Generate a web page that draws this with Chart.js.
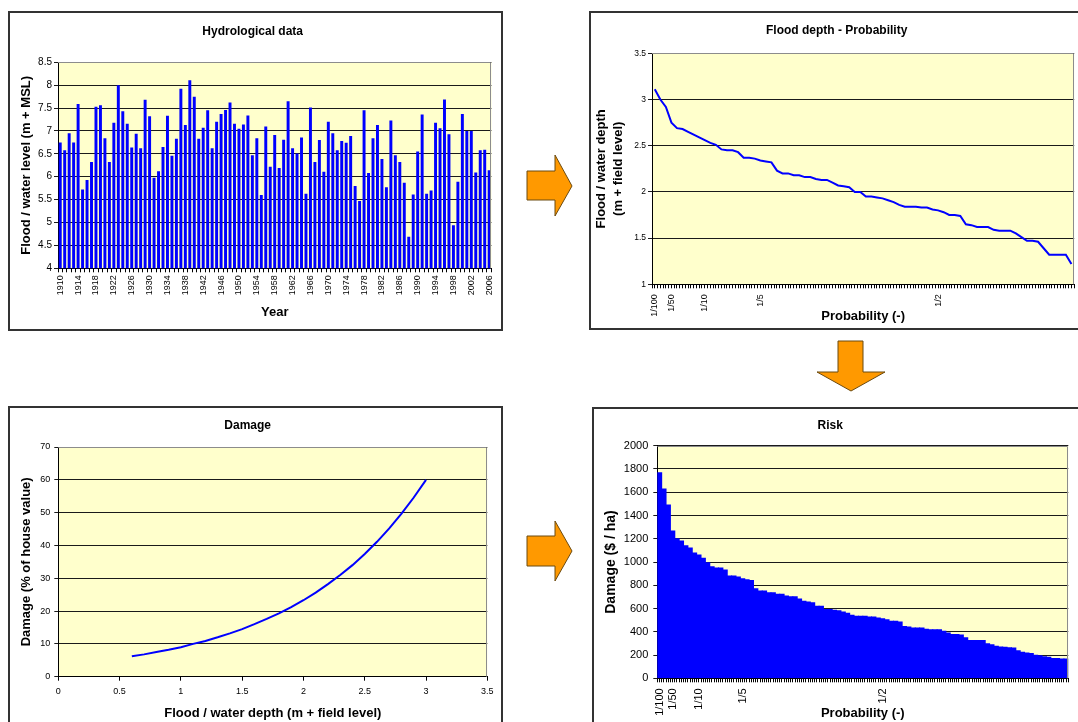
<!DOCTYPE html>
<html>
<head>
<meta charset="utf-8">
<script src="https://cdn.jsdelivr.net/npm/chart.js@4.4.1/dist/chart.umd.min.js"></script>
<style>
  html, body { margin: 0; padding: 0; background: #fff; width: 1078px; height: 722px; overflow: hidden; }
  .panel { position: absolute; }
  .frame { position: absolute; box-sizing: border-box; border: 2px solid #333; pointer-events: none; }
  canvas { display: block; }
  svg { position: absolute; left: 0; top: 0; }
</style>
</head>
<body>

<canvas id="hydro" class="panel" width="495" height="320" style="left:8px;top:11px"></canvas>
<div class="frame" style="left:8px;top:11px;width:495px;height:320px"></div>

<canvas id="depth" class="panel" width="502" height="319" style="left:589px;top:11px"></canvas>
<div class="frame" style="left:589px;top:11px;width:502px;height:319px"></div>

<canvas id="damage" class="panel" width="495" height="330" style="left:8px;top:406px"></canvas>
<div class="frame" style="left:8px;top:406px;width:495px;height:330px"></div>

<canvas id="risk" class="panel" width="498" height="330" style="left:592px;top:407px"></canvas>
<div class="frame" style="left:592px;top:407px;width:498px;height:330px"></div>

<svg width="1078" height="722">
  <polygon points="527,171 555,171 555,155 572,186 555,216 555,200 527,200" fill="#FF9900" stroke="#6b4a10" stroke-width="1"/>
  <polygon points="838,341 863,341 863,372 885,372 851,391 817,372 838,372" fill="#FF9900" stroke="#6b4a10" stroke-width="1"/>
  <polygon points="527,536 555,536 555,521 572,551 555,581 555,566 527,566" fill="#FF9900" stroke="#6b4a10" stroke-width="1"/>
</svg>

<script>
// ---- annual maximum water levels (m + MSL) ----
const years = [1910, 1911, 1912, 1913, 1914, 1915, 1916, 1917, 1918, 1919,
  1920, 1921, 1922, 1923, 1924, 1925, 1926, 1927, 1928, 1929,
  1930, 1931, 1932, 1933, 1934, 1935, 1936, 1937, 1938, 1939,
  1940, 1941, 1942, 1943, 1944, 1945, 1946, 1947, 1948, 1949,
  1950, 1951, 1952, 1953, 1954, 1955, 1956, 1957, 1958, 1959,
  1960, 1961, 1962, 1963, 1964, 1965, 1966, 1967, 1968, 1969,
  1970, 1971, 1972, 1973, 1974, 1975, 1976, 1977, 1978, 1979,
  1980, 1981, 1982, 1983, 1984, 1985, 1986, 1987, 1988, 1989,
  1990, 1991, 1992, 1993, 1994, 1995, 1996, 1997, 1998, 1999,
  2000, 2001, 2002, 2003, 2004, 2005, 2006];

const waterLevel = [6.75, 6.58, 6.95, 6.75, 7.59, 5.72, 5.93, 6.32, 7.53, 7.56,
  6.84, 6.32, 7.18, 8.00, 7.43, 7.16, 6.64, 6.94, 6.62, 7.68,
  7.32, 5.98, 6.12, 6.65, 7.33, 6.46, 6.83, 7.92, 7.13, 8.11,
  7.75, 6.83, 7.07, 7.45, 6.62, 7.20, 7.37, 7.46, 7.62, 7.16,
  7.05, 7.14, 7.34, 6.47, 6.84, 5.60, 7.10, 6.22, 6.91, 6.19,
  6.81, 7.65, 6.62, 6.51, 6.86, 5.63, 7.51, 6.32, 6.80, 6.11,
  7.20, 6.95, 6.58, 6.78, 6.74, 6.89, 5.80, 5.47, 7.45, 6.08,
  6.84, 7.13, 6.39, 5.77, 7.23, 6.47, 6.32, 5.87, 4.69, 5.61,
  6.55, 7.36, 5.63, 5.70, 7.18, 7.06, 7.69, 6.93, 4.94, 5.89,
  7.37, 7.00, 7.00, 6.09, 6.58, 6.59, 6.14];

// ---- flood depth (m + field level), ranked from rarest to most frequent ----
const floodDepth = [3.11, 3.00, 2.92, 2.75, 2.69, 2.68, 2.65, 2.62, 2.59, 2.56,
  2.53, 2.51, 2.46, 2.45, 2.45, 2.43, 2.37, 2.37, 2.36, 2.34,
  2.33, 2.32, 2.23, 2.20, 2.20, 2.18, 2.18, 2.16, 2.16, 2.14,
  2.13, 2.13, 2.10, 2.07, 2.06, 2.05, 2.00, 2.00, 1.95, 1.95,
  1.94, 1.93, 1.91, 1.89, 1.86, 1.84, 1.84, 1.84, 1.83, 1.83,
  1.81, 1.80, 1.78, 1.75, 1.75, 1.74, 1.65, 1.64, 1.62, 1.62,
  1.62, 1.59, 1.58, 1.58, 1.58, 1.55, 1.51, 1.47, 1.47, 1.46,
  1.39, 1.32, 1.32, 1.32, 1.32, 1.22];

// ---- depth-damage curve ----
const damageDepth = [0.6, 0.7, 0.8, 0.9, 1.0, 1.1, 1.2, 1.3, 1.4, 1.5, 1.6, 1.7, 1.8,
  1.9, 2.0, 2.1, 2.2, 2.3, 2.4, 2.5, 2.6, 2.7, 2.8, 2.9, 3.0];
const damagePercent = [6.2, 6.8, 7.5, 8.2, 9.0, 10.0, 10.9, 12.0, 13.2, 14.5, 16.0, 17.6, 19.3,
  21.2, 23.3, 25.6, 28.2, 31.0, 34.0, 37.4, 41.1, 45.2, 49.7, 54.6, 60.0];

// ---- damage per hectare for each ranked event ----
const riskDamage = [1768, 1627, 1490, 1266, 1200, 1180, 1140, 1120, 1077, 1060,
  1032, 994, 960, 948, 948, 932, 880, 880, 872, 856,
  848, 840, 771, 750, 750, 736, 736, 722, 722, 708,
  702, 702, 682, 663, 657, 650, 620, 620, 592, 592,
  586, 581, 570, 559, 543, 533, 533, 533, 528, 528,
  518, 513, 504, 490, 490, 485, 446, 441, 433, 433,
  433, 421, 417, 417, 417, 405, 390, 376, 376, 372,
  348, 326, 326, 326, 326, 297, 288, 275, 270, 267,
  262, 260, 236, 225, 217, 213, 199, 194, 185, 181,
  170, 170, 167, 165];

// ---- probability labels on the ranked axis ----
const probLabelRank = [0, 3, 9, 19, 51];
const probLabelText = ['1/100', '1/50', '1/10', '1/5', '1/2'];

// ------------------------------------------------------------------
const FONT = "'Liberation Sans', Arial, Helvetica, sans-serif";
const f = (size, weight) => ({ family: FONT, size: size, weight: weight || 'normal' });
const plain = v => String(Math.round(v * 100) / 100);

// light yellow plot area with a grey frame on top and right
const plotFrame = {
  id: 'plotFrame',
  beforeDraw(chart) {
    const c = chart.ctx, a = chart.chartArea;
    c.save();
    c.fillStyle = '#ffffff';
    c.fillRect(0, 0, chart.width, chart.height);
    c.fillStyle = '#FFFFCC';
    c.fillRect(a.left, a.top, a.right - a.left, a.bottom - a.top);
    c.restore();
  },
  afterDatasetsDraw(chart) {
    const c = chart.ctx, a = chart.chartArea;
    c.save();
    c.strokeStyle = '#8c8c8c';
    c.lineWidth = 1;
    c.beginPath();
    c.moveTo(a.left, Math.round(a.top) + 0.5);
    c.lineTo(Math.round(a.right) - 0.5, Math.round(a.top) + 0.5);
    c.lineTo(Math.round(a.right) - 0.5, a.bottom);
    c.stroke();
    c.restore();
  }
};

function axisTitle(text, size, pad) {
  return { display: true, text: text, color: '#000', font: f(size, 'bold'), padding: pad };
}
function chartTitle(text, pad) {
  return { display: true, text: text, color: '#000', font: f(12, 'bold'), padding: pad };
}
const noLegend = { display: false };
const noTip = { enabled: false };

// half-category tick marks along the ranked probability axis
function halfSteps(axis) {
  const n = Math.round(axis.max * 2);
  const t = [];
  for (let k = 0; k <= n; k++) t.push({ value: k / 2 });
  axis.ticks = t;
}
function probLabel(v) {
  const k = probLabelRank.findIndex(r => Math.abs(r + 0.5 - v) < 1e-6);
  return k >= 0 ? probLabelText[k] : '';
}

// ---------------- Hydrological data ----------------
new Chart(document.getElementById('hydro'), {
  type: 'bar',
  data: {
    labels: years.map(String),
    datasets: [{ data: waterLevel, backgroundColor: '#0000FF', barPercentage: 0.66, categoryPercentage: 1 }]
  },
  options: {
    responsive: false, animation: false, events: [],
    layout: { padding: { left: 0, right: 5.7, top: 0, bottom: 0 } },
    plugins: { legend: noLegend, tooltip: noTip, title: chartTitle('Hydrological data', { top: 13.5, bottom: 23.4 }) },
    scales: {
      x: {
        grid: { offset: true, drawOnChartArea: false, tickLength: 4, color: '#000' },
        border: { color: '#000' },
        ticks: {
          autoSkip: false, minRotation: 90, maxRotation: 90, padding: 3, color: '#000', font: f(9),
          callback(v, i) { return i % 4 === 0 ? this.getLabelForValue(v) : ''; }
        },
        title: axisTitle('Year', 13, { top: 0, bottom: 11.2 }),
        afterFit(s) { s.height = 62.7; }
      },
      y: {
        min: 4, max: 8.5,
        ticks: { stepSize: 0.5, color: '#000', font: f(10), padding: 2, callback: plain },
        grid: { color: '#1a1a1a', tickLength: 4 },
        border: { color: '#000' },
        title: axisTitle('Flood / water level (m + MSL)', 13, { top: 10.9, bottom: 0 }),
        afterFit(s) { s.width = 50; }
      }
    }
  },
  plugins: [plotFrame]
});

// ---------------- Flood depth - Probability ----------------
new Chart(document.getElementById('depth'), {
  type: 'line',
  data: {
    datasets: [{
      data: floodDepth.map((d, i) => ({ x: i + 0.5, y: d })),
      borderColor: '#0000FF', borderWidth: 2, pointRadius: 0, tension: 0, fill: false
    }]
  },
  options: {
    responsive: false, animation: false, events: [],
    layout: { padding: { left: 0, right: 6.6, top: 0, bottom: 0 } },
    plugins: { legend: noLegend, tooltip: noTip, title: chartTitle('Flood depth - Probability', { top: 12.5, bottom: 15.4 }) },
    scales: {
      x: {
        type: 'linear', min: 0, max: floodDepth.length, offset: false,
        afterBuildTicks: halfSteps,
        grid: { offset: false, drawOnChartArea: false, tickLength: 4, color: '#000' },
        border: { color: '#000' },
        ticks: { autoSkip: false, minRotation: 90, maxRotation: 90, padding: 6, color: '#000', font: f(9), callback: probLabel },
        title: axisTitle('Probability (-)', 13, { top: 0, bottom: 5.5 }),
        afterFit(s) { s.height = 45.7; }
      },
      y: {
        min: 1, max: 3.5,
        ticks: { stepSize: 0.5, color: '#000', font: f(8.5), padding: 2, callback: plain },
        grid: { color: '#1a1a1a', tickLength: 4 },
        border: { color: '#000' },
        title: { display: true, text: ['Flood / water depth', '(m + field level)'], color: '#000',
                 font: { family: FONT, size: 13, weight: 'bold', lineHeight: 1.28 }, padding: { top: 4.4, bottom: 0 } },
        afterFit(s) { s.width = 63; }
      }
    }
  },
  plugins: [plotFrame]
});

// ---------------- Damage ----------------
new Chart(document.getElementById('damage'), {
  type: 'line',
  data: {
    datasets: [{
      data: damageDepth.map((d, i) => ({ x: d, y: damagePercent[i] })),
      borderColor: '#0000FF', borderWidth: 2, pointRadius: 0, tension: 0, fill: false
    }]
  },
  options: {
    responsive: false, animation: false, events: [],
    layout: { padding: { left: 0, right: 15.7, top: 0, bottom: 0 } },
    plugins: { legend: noLegend, tooltip: noTip, title: chartTitle('Damage', { top: 12.8, bottom: 13.8 }) },
    scales: {
      x: {
        type: 'linear', min: 0, max: 3.5,
        ticks: { stepSize: 0.5, color: '#000', font: f(9), padding: 5, maxRotation: 0, callback: plain },
        grid: { drawOnChartArea: false, tickLength: 4, color: '#000' },
        border: { color: '#000' },
        title: axisTitle('Flood / water depth (m + field level)', 13, { top: 0, bottom: 14.9 }),
        afterFit(s) { s.height = 59.3; }
      },
      y: {
        min: 0, max: 70,
        ticks: { stepSize: 10, color: '#000', font: f(9), padding: 4, callback: plain },
        grid: { color: '#1a1a1a', tickLength: 4 },
        border: { color: '#000' },
        title: axisTitle('Damage (% of house value)', 13, { top: 10.9, bottom: 0 }),
        afterFit(s) { s.width = 50.3; }
      }
    }
  },
  plugins: [plotFrame]
});

// ---------------- Risk ----------------
new Chart(document.getElementById('risk'), {
  type: 'bar',
  data: {
    datasets: [{
      data: riskDamage.map((v, i) => ({ x: i + 0.5, y: v })),
      backgroundColor: '#0000FF', borderWidth: 0, barThickness: 'flex',
      barPercentage: 1, categoryPercentage: 1, inflateAmount: 0.5
    }]
  },
  options: {
    responsive: false, animation: false, events: [],
    layout: { padding: { left: 0, right: 21.7, top: 0, bottom: 0 } },
    plugins: { legend: noLegend, tooltip: noTip, title: chartTitle('Risk', { top: 11.8, bottom: 12.5 }) },
    scales: {
      x: {
        type: 'linear', min: 0, max: riskDamage.length, offset: false,
        afterBuildTicks: halfSteps,
        grid: { offset: false, drawOnChartArea: false, tickLength: 4, color: '#000' },
        border: { color: '#000' },
        ticks: { autoSkip: false, minRotation: 90, maxRotation: 90, padding: 6, color: '#000', font: f(11), callback: probLabel },
        title: axisTitle('Probability (-)', 13, { top: 0, bottom: 15.9 }),
        afterFit(s) { s.height = 58.7; }
      },
      y: {
        min: 0, max: 2000,
        ticks: { stepSize: 200, color: '#000', font: f(11), padding: 5, callback: plain },
        grid: { color: '#1a1a1a', tickLength: 4 },
        border: { color: '#000' },
        title: axisTitle('Damage ($ / ha)', 14, { top: 10.9, bottom: 0 }),
        afterFit(s) { s.width = 65.3; }
      }
    }
  },
  plugins: [plotFrame]
});
</script>
</body>
</html>
